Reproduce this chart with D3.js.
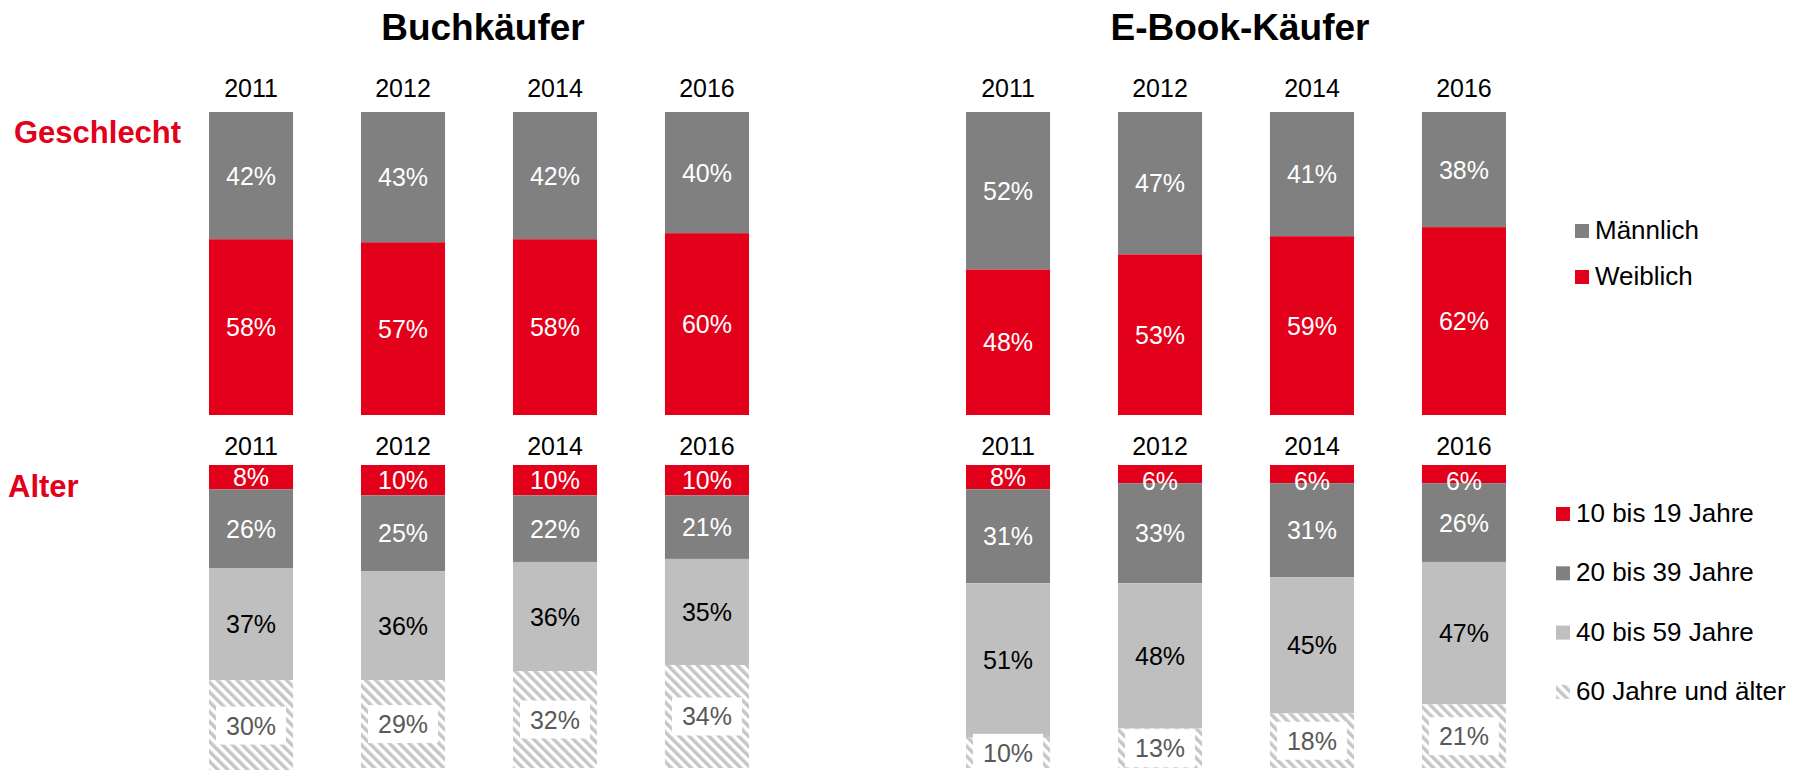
<!DOCTYPE html>
<html>
  <body style="margin:0">
    <style>
      svg { display: block; font-family: "Liberation Sans", Arial, sans-serif; }
    </style>
    <script src="https://d3js.org/d3.v7.min.js"></script>
    <script type="text/javascript">
      const width = 1808;
      const height = 770;

      const years = ['2011', '2012', '2014', '2016'];
      const panelTitles = ['Buchkäufer', 'E-Book-Käufer'];

      const genderKeys = ['Männlich', 'Weiblich'];
      const ageKeys = ['10 bis 19 Jahre', '20 bis 39 Jahre', '40 bis 59 Jahre', '60 Jahre und älter'];

      // Buchkäufer
      const buchMaennlich = [42, 43, 42, 40];
      const buchWeiblich = [58, 57, 58, 60];
      const buchAge10 = [8, 10, 10, 10];
      const buchAge20 = [26, 25, 22, 21];
      const buchAge40 = [37, 36, 36, 35];
      const buchAge60 = [30, 29, 32, 34];

      // E-Book-Käufer
      const ebookMaennlich = [52, 47, 41, 38];
      const ebookWeiblich = [48, 53, 59, 62];
      const ebookAge10 = [8, 6, 6, 6];
      const ebookAge20 = [31, 33, 31, 26];
      const ebookAge40 = [51, 48, 45, 47];
      const ebookAge60 = [10, 13, 18, 21];

      const red = '#e2001a';
      const darkGrey = '#808080';
      const lightGrey = '#bfbfbf';

      const genderFill = {'Männlich': darkGrey, 'Weiblich': red};
      const ageFill = {
        '10 bis 19 Jahre': red,
        '20 bis 39 Jahre': darkGrey,
        '40 bis 59 Jahre': lightGrey,
        '60 Jahre und älter': 'url(#hatch)',
      };
      const labelColor = {
        'Männlich': '#fff', 'Weiblich': '#fff',
        '10 bis 19 Jahre': '#fff', '20 bis 39 Jahre': '#fff',
        '40 bis 59 Jahre': '#000', '60 Jahre und älter': '#595959',
      };

      const toRows = (cols, keys) => years.map((year, i) => {
        const row = {year};
        keys.forEach((k, j) => { row[k] = cols[j][i]; });
        return row;
      });

      const panels = [
        {
          title: panelTitles[0],
          range: [209, 749],
          gender: toRows([buchMaennlich, buchWeiblich], genderKeys),
          age: toRows([buchAge10, buchAge20, buchAge40, buchAge60], ageKeys),
        },
        {
          title: panelTitles[1],
          range: [966, 1506],
          gender: toRows([ebookMaennlich, ebookWeiblich], genderKeys),
          age: toRows([ebookAge10, ebookAge20, ebookAge40, ebookAge60], ageKeys),
        },
      ];

      const svg = d3.select('body')
        .append('svg')
        .attr('width', width)
        .attr('height', height);

      const pattern = svg.append('defs')
        .append('pattern')
        .attr('id', 'hatch')
        .attr('width', 7)
        .attr('height', 7)
        .attr('patternUnits', 'userSpaceOnUse')
        .attr('patternTransform', 'rotate(-45)');
      pattern.append('rect').attr('width', 7).attr('height', 7).attr('fill', '#fff');
      pattern.append('rect').attr('width', 3.5).attr('height', 7).attr('fill', '#c6c6c6');

      function drawBlock(panel, rows, keys, fills, top, yearBaseline) {
        const xScale = d3.scaleBand()
          .domain(years)
          .range(panel.range)
          .paddingInner(0.447)
          .paddingOuter(0);

        const yScale = d3.scaleLinear()
          .domain([0, 100])
          .range([top, top + 303]);

        const series = d3.stack().keys(keys)(rows);
        const cells = series.flatMap((s) => s.map((d) => Object.assign(d, {key: s.key})));

        svg.append('g')
          .selectAll('text')
          .data(years)
          .enter()
          .append('text')
          .attr('x', (d) => xScale(d) + xScale.bandwidth() / 2)
          .attr('y', yearBaseline)
          .attr('text-anchor', 'middle')
          .attr('font-size', 25)
          .text((d) => d);

        svg.append('g')
          .selectAll('rect')
          .data(cells)
          .enter()
          .append('rect')
          .attr('x', (d) => xScale(d.data.year))
          .attr('y', (d) => yScale(d[0]))
          .attr('width', xScale.bandwidth())
          .attr('height', (d) => yScale(d[1]) - yScale(d[0]))
          .attr('fill', (d) => fills[d.key]);

        // small segments push their label down a bit, like the original
        const labelY = (d) => {
          const h = yScale(d[1]) - yScale(d[0]);
          return h < 22 ? yScale(d[0]) + 16 : (yScale(d[0]) + yScale(d[1])) / 2;
        };

        svg.append('g')
          .selectAll('rect')
          .data(cells.filter((d) => d.key === '60 Jahre und älter'))
          .enter()
          .append('rect')
          .attr('x', (d) => xScale(d.data.year) + 7)
          .attr('y', (d) => labelY(d) - 19)
          .attr('width', xScale.bandwidth() - 14)
          .attr('height', 38)
          .attr('fill', '#fff');

        svg.append('g')
          .selectAll('text')
          .data(cells)
          .enter()
          .append('text')
          .attr('x', (d) => xScale(d.data.year) + xScale.bandwidth() / 2)
          .attr('y', (d) => labelY(d))
          .attr('dy', '0.36em')
          .attr('text-anchor', 'middle')
          .attr('font-size', 25)
          .attr('fill', (d) => labelColor[d.key])
          .text((d) => `${d.data[d.key]}%`);
      }

      panels.forEach((panel) => {
        svg.append('text')
          .attr('x', (panel.range[0] + panel.range[1]) / 2 + 4)
          .attr('y', 40)
          .attr('text-anchor', 'middle')
          .attr('font-size', 37)
          .attr('font-weight', 'bold')
          .text(panel.title);

        drawBlock(panel, panel.gender, genderKeys, genderFill, 112, 97);
        drawBlock(panel, panel.age, ageKeys, ageFill, 465, 455);
      });

      svg.append('text')
        .attr('x', 14)
        .attr('y', 143)
        .attr('font-size', 31)
        .attr('font-weight', 'bold')
        .attr('fill', red)
        .text('Geschlecht');

      svg.append('text')
        .attr('x', 8)
        .attr('y', 497)
        .attr('font-size', 31)
        .attr('font-weight', 'bold')
        .attr('fill', red)
        .text('Alter');

      // legends
      function legend(keys, fills, x, firstBaseline, step) {
        const items = svg.append('g')
          .selectAll('g')
          .data(keys)
          .enter()
          .append('g')
          .attr('transform', (d, i) => `translate(${x},${firstBaseline + i * step})`);
        items.append('rect')
          .attr('x', 0)
          .attr('y', -15)
          .attr('width', 14)
          .attr('height', 14)
          .attr('fill', (d) => fills[d]);
        items.append('text')
          .attr('x', 20)
          .attr('font-size', 26)
          .text((d) => d);
      }

      legend(genderKeys, genderFill, 1575, 239, 46);
      legend(ageKeys, ageFill, 1556, 522, 59.3);
    </script>
  </body>
</html>
